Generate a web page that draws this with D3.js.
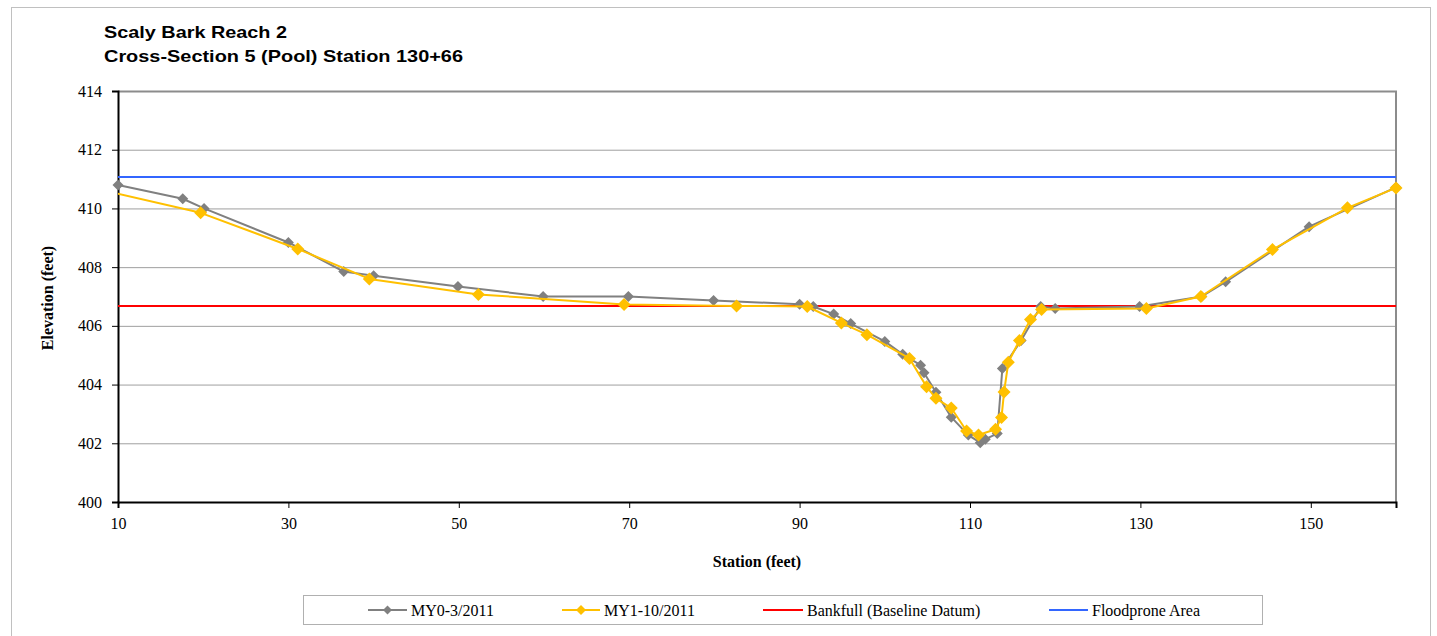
<!DOCTYPE html>
<html>
<head>
<meta charset="utf-8">
<script src="https://cdn.jsdelivr.net/npm/d3@7"></script>
<style>
  html, body { margin: 0; padding: 0; background: #fff; }
  svg { display: block; }
</style>
</head>
<body>
<svg id="chart" width="1437" height="636"></svg>
<script>
// ---- data ----
const titleLines = ["Scaly Bark Reach 2", "Cross-Section 5 (Pool) Station 130+66"];
const xTicks = [10, 30, 50, 70, 90, 110, 130, 150];
const yTicks = [400, 402, 404, 406, 408, 410, 412, 414];

const my0Station = [10, 17.6, 20.1, 30.0, 36.5, 40.0, 49.9, 59.9, 69.9, 79.9, 90.0, 91.6, 94.0, 96.0, 100.0, 102.1, 104.2, 104.6, 106.0, 107.8, 109.8, 111.2, 111.8, 113.2, 113.8, 116.0, 118.3, 120.0, 129.9, 137.2, 140.0, 149.8, 160.0];
const my0Elev    = [410.8, 410.33, 410.0, 408.84, 407.85, 407.71, 407.34, 407.0, 407.0, 406.86, 406.74, 406.66, 406.4, 406.08, 405.47, 405.03, 404.66, 404.4, 403.74, 402.89, 402.28, 402.02, 402.14, 402.33, 404.55, 405.5, 406.66, 406.59, 406.66, 407.0, 407.5, 409.38, 410.72];

const my1Station = [9.0, 19.7, 31.1, 39.5, 52.3, 69.4, 82.6, 90.9, 94.9, 97.9, 102.9, 104.9, 106.0, 107.8, 109.6, 111.0, 113.0, 113.7, 114.0, 114.5, 115.8, 117.1, 118.4, 130.7, 137.1, 145.5, 154.3, 160.0];
const my1Elev    = [410.57, 409.85, 408.62, 407.6, 407.07, 406.73, 406.68, 406.66, 406.1, 405.7, 404.89, 403.93, 403.53, 403.2, 402.42, 402.28, 402.48, 402.88, 403.75, 404.76, 405.5, 406.22, 406.56, 406.59, 407.0, 408.6, 410.02, 410.7];

const bankfullElev = 406.68;
const floodproneElev = 411.07;

const seriesNames = ["MY0-3/2011", "MY1-10/2011", "Bankfull (Baseline Datum)", "Floodprone Area"];

// ---- layout ----
const svg = d3.select("#chart");
const L = 118, R = 1396, T = 91, B = 502;
const x = d3.scaleLinear().domain([10, 160]).range([L, R]);
const y = d3.scaleLinear().domain([400, 414]).range([B, T]);

const serif = "'Liberation Serif', 'Times New Roman', serif";
const sans = "'Liberation Sans', Arial, sans-serif";

// outer chart border
svg.append("rect").attr("x", 11.5).attr("y", 7.5).attr("width", 1419).attr("height", 640)
  .attr("fill", "none").attr("stroke", "#c0c0c0").attr("stroke-width", 1);

// title (Excel renders it horizontally stretched)
const titleWidths = [183, 359];
titleLines.forEach((t, i) => {
  svg.append("text").attr("x", 104).attr("y", 38 + i * 24)
    .attr("font-family", sans).attr("font-weight", "bold").attr("font-size", 16.5).attr("fill", "#000")
    .attr("textLength", titleWidths[i]).attr("lengthAdjust", "spacingAndGlyphs")
    .text(t);
});

// gridlines
svg.append("g").selectAll("line").data(yTicks.filter(d => d > 400 && d < 414)).join("line")
  .attr("x1", L).attr("x2", R).attr("y1", d => y(d) + 0.5).attr("y2", d => y(d) + 0.5)
  .attr("stroke", "#9f9f9f").attr("stroke-width", 1);

// plot border (top / right gray)
svg.append("path")
  .attr("d", `M${L},${T + 0.5}H${R}V${B}`)
  .attr("fill", "none").attr("stroke", "#8c8c8c").attr("stroke-width", 2);

// y axis
const yAxis = svg.append("g").attr("transform", `translate(${L},0)`)
  .call(d3.axisLeft(y).tickValues(yTicks).tickSize(6).tickPadding(10).tickFormat(d3.format("d")));
yAxis.attr("font-family", null);
yAxis.select(".domain").attr("stroke", "#000").attr("stroke-width", 2);
yAxis.selectAll(".tick line").attr("stroke", "#000");
yAxis.selectAll("text").style("font-family", serif).style("font-size", "16px").attr("fill", "#000");

// x axis
const xAxis = svg.append("g").attr("transform", `translate(0,${B})`)
  .call(d3.axisBottom(x).tickValues(xTicks).tickSize(6).tickPadding(10).tickFormat(d3.format("d")));
xAxis.attr("font-family", null);
xAxis.select(".domain").attr("stroke", "#000").attr("stroke-width", 2);
xAxis.selectAll(".tick line").attr("stroke", "#000");
xAxis.selectAll("text").style("font-family", serif).style("font-size", "16px").attr("fill", "#000");

// axis titles
svg.append("text").attr("x", 757).attr("y", 567).attr("text-anchor", "middle")
  .style("font-family", serif).attr("font-weight", "bold").attr("font-size", 16).text("Station (feet)");
svg.append("text").attr("transform", "translate(53,298) rotate(-90)").attr("text-anchor", "middle")
  .style("font-family", serif).attr("font-weight", "bold").attr("font-size", 16).text("Elevation (feet)");

// clip for data
svg.append("defs").append("clipPath").attr("id", "plotclip")
  .append("rect").attr("x", L).attr("y", T - 10).attr("width", R - L + 10).attr("height", B - T + 20);

// horizontal reference lines
svg.append("line").attr("x1", L).attr("x2", R).attr("y1", y(bankfullElev)).attr("y2", y(bankfullElev))
  .attr("stroke", "#ff0000").attr("stroke-width", 2);
svg.append("line").attr("x1", L).attr("x2", R).attr("y1", y(floodproneElev)).attr("y2", y(floodproneElev))
  .attr("stroke", "#3366ff").attr("stroke-width", 2);

const line = d3.line().x(d => x(d[0])).y(d => y(d[1]));
const diamond = (cx, cy, r) => `M${cx},${cy - r}L${cx + r},${cy}L${cx},${cy + r}L${cx - r},${cy}Z`;

function drawSeries(st, el, color, r, clip) {
  const pts = st.map((s, i) => [s, el[i]]);
  const g = svg.append("g");
  if (clip) g.attr("clip-path", "url(#plotclip)");
  g.append("path").datum(pts).attr("d", line).attr("fill", "none")
    .attr("stroke", color).attr("stroke-width", 2).attr("stroke-linejoin", "round");
  g.selectAll("path.m").data(pts).join("path").attr("class", "m")
    .attr("d", d => diamond(x(d[0]), y(d[1]), r)).attr("fill", color);
}
drawSeries(my0Station, my0Elev, "#808080", 5.5, false);
drawSeries(my1Station, my1Elev, "#ffc000", 6.5, true);

// legend
svg.append("rect").attr("x", 303.5).attr("y", 595.5).attr("width", 959).attr("height", 29)
  .attr("fill", "#fff").attr("stroke", "#b0b0b0").attr("stroke-width", 1);
const ly = 610;
const legendItems = [
  { name: seriesNames[0], color: "#808080", x1: 368, x2: 407, marker: 4.5, tx: 411 },
  { name: seriesNames[1], color: "#ffc000", x1: 562, x2: 600, marker: 5, tx: 604 },
  { name: seriesNames[2], color: "#ff0000", x1: 763, x2: 803, marker: 0, tx: 807 },
  { name: seriesNames[3], color: "#3366ff", x1: 1049, x2: 1088, marker: 0, tx: 1092 }
];
legendItems.forEach(it => {
  svg.append("line").attr("x1", it.x1).attr("x2", it.x2).attr("y1", ly).attr("y2", ly)
    .attr("stroke", it.color).attr("stroke-width", 2);
  if (it.marker) svg.append("path").attr("d", diamond((it.x1 + it.x2) / 2, ly, it.marker)).attr("fill", it.color);
  svg.append("text").attr("x", it.tx).attr("y", ly + 5.5).style("font-family", serif)
    .attr("font-size", 16).attr("fill", "#000").text(it.name);
});
</script>
</body>
</html>
